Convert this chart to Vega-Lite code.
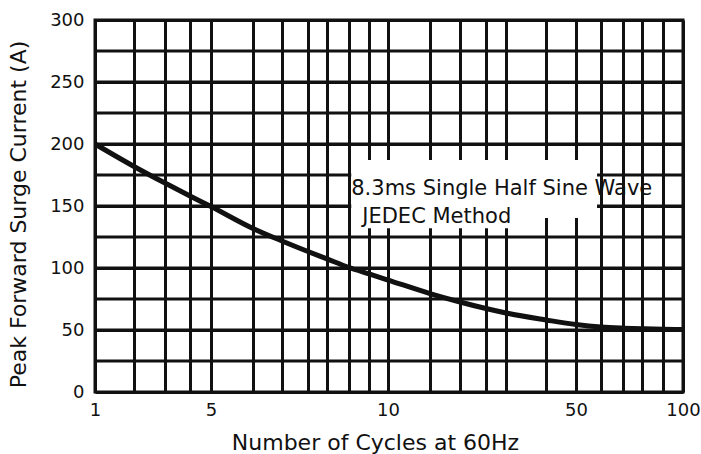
{
  "$schema": "https://vega.github.io/schema/vega-lite/v6.json",
  "width": 588,
  "height": 372,
  "autosize": {"type": "none"},
  "padding": {"left": 95, "top": 20, "right": 18, "bottom": 62},
  "background": "white",
  "config": {
    "font": "DejaVu Sans",
    "view": {"stroke": "#111111", "strokeWidth": 3},
    "axis": {
      "labelColor": "#111111",
      "titleColor": "#111111",
      "titleFontWeight": "normal",
      "grid": true,
      "gridColor": "#111111",
      "gridWidth": 3,
      "gridOpacity": 1,
      "domain": false,
      "ticks": false,
      "labelOverlap": false,
      "labelFlush": false
    }
  },
  "datasets": {
    "curve": [
      {"cycles": 1, "current": 200},
      {"cycles": 1.718, "current": 181.9},
      {"cycles": 2.641, "current": 168.5},
      {"cycles": 3.736, "current": 158.1},
      {"cycles": 5, "current": 149.6},
      {"cycles": 5.894, "current": 131.9},
      {"cycles": 6.603, "current": 121.8},
      {"cycles": 7.31, "current": 113.3},
      {"cycles": 7.876, "current": 107.3},
      {"cycles": 8.585, "current": 100.4},
      {"cycles": 9.285, "current": 95.2},
      {"cycles": 10, "current": 90.3},
      {"cycles": 14.33, "current": 79.4},
      {"cycles": 18.52, "current": 72.6},
      {"cycles": 23.14, "current": 67.3},
      {"cycles": 27.46, "current": 63.7},
      {"cycles": 38.68, "current": 58.1},
      {"cycles": 50, "current": 54.4},
      {"cycles": 58.79, "current": 52.4},
      {"cycles": 67.8, "current": 51.5},
      {"cycles": 76.68, "current": 51},
      {"cycles": 87.85, "current": 50.6},
      {"cycles": 100, "current": 50.4}
    ],
    "hgrid": [
      {"level": 25}, {"level": 50}, {"level": 75}, {"level": 100}, {"level": 125},
      {"level": 150}, {"level": 175}, {"level": 200}, {"level": 225}, {"level": 250}, {"level": 275}
    ],
    "boxes": [
      {"x1": 8.66, "x2": 57.3, "y1": 187, "y2": 140.3},
      {"x1": 8.66, "x2": 33.7, "y1": 140.3, "y2": 132}
    ],
    "notes": [
      {"x": 8.66, "y": 158.9, "text": "8.3ms Single Half Sine Wave"},
      {"x": 9.04, "y": 136.5, "text": "JEDEC Method"}
    ]
  },
  "layer": [
    {
      "data": {"name": "curve"},
      "mark": {"type": "line", "color": "#111111", "strokeWidth": 5, "interpolate": "monotone", "opacity": 0},
      "encoding": {
        "x": {
          "field": "cycles", "type": "quantitative",
          "scale": {"type": "log", "domain": [1, 5, 10, 50, 100], "range": [0, 116, 293, 481, 588], "nice": false, "zero": false},
          "axis": {
            "orient": "bottom",
            "values": [1, 1.718, 2.641, 3.736, 5, 5.894, 6.603, 7.31, 7.876, 8.585, 9.285, 10, 14.33, 18.52, 23.14, 27.46, 38.68, 50, 58.79, 67.8, 76.68, 87.85, 100],
            "format": "~g",
            "labelExpr": "indexof([1,5,10,50,100], datum.value) >= 0 ? datum.label : ''",
            "labelFontSize": 18,
            "labelPadding": 9,
            "title": "Number of Cycles at 60Hz",
            "titleFontSize": 22,
            "titleX": 280,
            "titleY": 57,
            "titleBaseline": "alphabetic"
          }
        },
        "y": {
          "field": "current", "type": "quantitative",
          "scale": {"domain": [0, 300], "nice": false, "zero": false},
          "axis": {
            "values": [0, 50, 100, 150, 200, 250, 300],
            "labelFontSize": 18,
            "labelPadding": 11,
            "title": "Peak Forward Surge Current (A)",
            "titleFontSize": 22,
            "titleAngle": -90,
            "titleX": -70,
            "titleY": 194,
            "titleBaseline": "alphabetic"
          }
        }
      }
    },
    {
      "data": {"name": "hgrid"},
      "mark": {"type": "rule", "color": "#111111", "strokeWidth": 3},
      "encoding": {
        "y": {"field": "level", "type": "quantitative"}
      }
    },
    {
      "data": {"name": "boxes"},
      "mark": {"type": "rect", "fill": "white", "stroke": null},
      "encoding": {
        "x": {"field": "x1", "type": "quantitative"},
        "x2": {"field": "x2"},
        "y": {"field": "y1", "type": "quantitative"},
        "y2": {"field": "y2"}
      }
    },
    {
      "data": {"name": "curve"},
      "mark": {"type": "line", "color": "#111111", "strokeWidth": 5, "interpolate": "monotone"},
      "encoding": {
        "x": {"field": "cycles", "type": "quantitative"},
        "y": {"field": "current", "type": "quantitative"}
      }
    },
    {
      "data": {"name": "notes"},
      "mark": {"type": "text", "align": "left", "baseline": "alphabetic", "fontSize": 21, "color": "#111111"},
      "encoding": {
        "x": {"field": "x", "type": "quantitative"},
        "y": {"field": "y", "type": "quantitative"},
        "text": {"field": "text"}
      }
    }
  ]
}
